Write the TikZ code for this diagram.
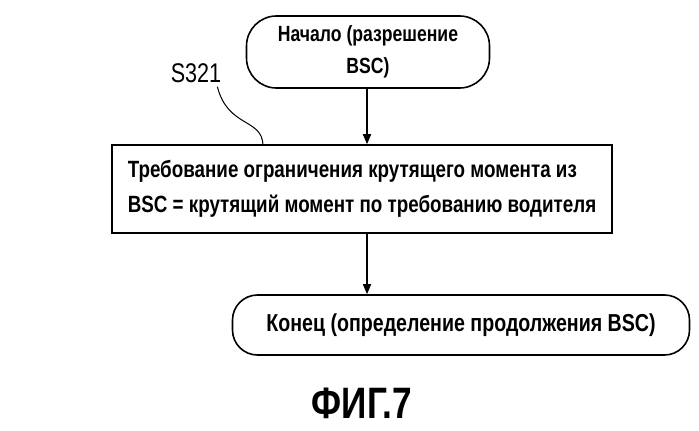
\documentclass[tikz,border=0pt]{standalone}
\usepackage{fontspec}
\setmainfont{Liberation Sans}[FakeStretch=0.8]
\usetikzlibrary{arrows.meta}
\begin{document}
\begin{tikzpicture}[x=1pt,y=-1pt,
  line width=1.6pt,
  term/.style={draw,rounded corners=30pt,inner sep=0pt,align=center},
  arr/.style={-{Triangle[length=10pt,width=8pt]}}]
\useasboundingbox (0,0) rectangle (699,431);
\node[term,minimum width=243pt,minimum height=72pt,font=\bfseries\fontsize{22}{32}\selectfont] (start) at (368,52) {Начало (разрешение\\BSC)};
\node[draw,minimum width=500pt,minimum height=88pt,inner sep=0pt,align=left,font=\bfseries\fontsize{23.5}{35}\selectfont] (box) at (362,189) {Требование ограничения крутящего момента из\\BSC = крутящий момент по требованию водителя};
\node[term,minimum width=457pt,minimum height=60pt,font=\bfseries\fontsize{24.5}{29}\selectfont,rounded corners=25pt] (end) at (461,325) {Конец (определение продолжения BSC)};
\draw[arr] (start.south -| 367,0) -- (box.north -| 367,0);
\draw[arr] (box.south -| 367,0) -- (end.north -| 367,0);
\node[font=\fontsize{27}{30}\selectfont] (lab) at (196,73) {S321};
\coordinate (lt) at (263,145);
\draw[line width=1pt] (lab.south east) ++(-8,0) coordinate (ls) .. controls (228,128) and (262,118) .. (lt);
\node[font=\bfseries\fontsize{44}{48}\selectfont] (fig) at (362,403) {ФИГ.7};
\end{tikzpicture}
\end{document}
